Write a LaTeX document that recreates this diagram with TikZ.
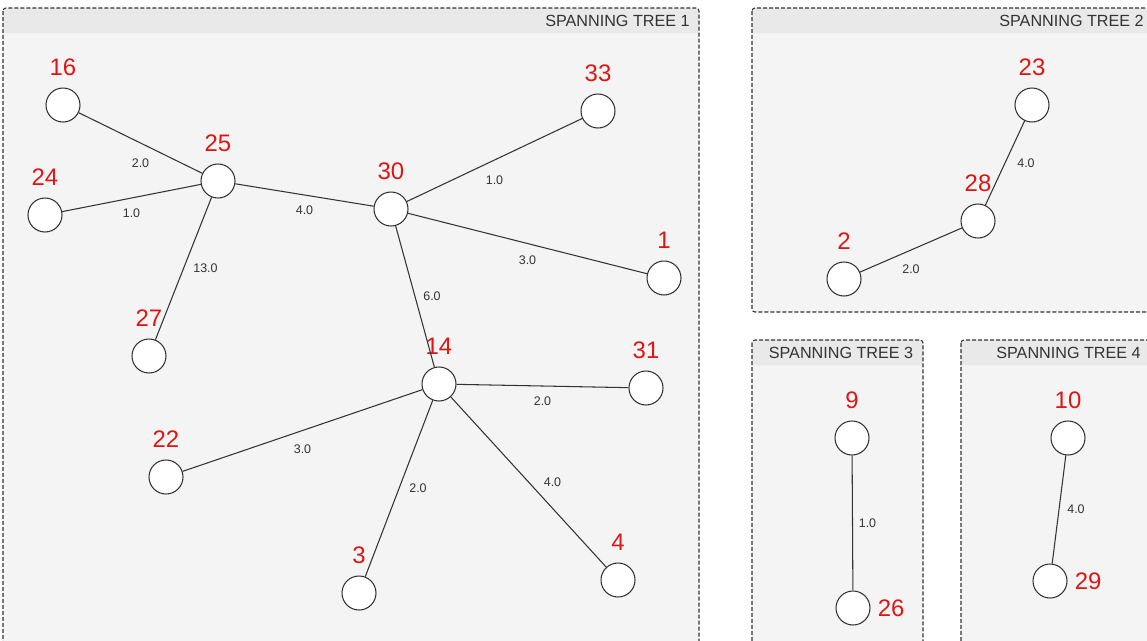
\documentclass[tikz,border=0pt]{standalone}
\usepackage{fontspec}
\setmainfont{Liberation Sans}
\definecolor{vtxred}{RGB}{225,20,20}
\definecolor{panelbg}{RGB}{244,244,244}
\definecolor{titlebg}{RGB}{233,233,233}
\definecolor{ink}{RGB}{51,51,51}
\tikzset{
  vert/.style={circle, draw=ink, fill=white, line width=0.6pt, minimum size=0.68cm, inner sep=0pt},
  vlabel/.style={text=vtxred, font=\fontsize{13.6}{14}\selectfont, inner sep=0pt},
  wt/.style={font=\fontsize{7.1}{8}\selectfont, text=ink, inner sep=0pt},
  link/.style={draw=ink, line width=0.6pt},
  panel/.style={draw=ink, dash pattern=on 0.08cm off 0.04cm, line width=0.6pt, rounded corners=0.06cm},
  ptitle/.style={font=\fontsize{9.2}{10}\selectfont, text=ink, inner sep=0pt}
}
\begin{document}
\begin{tikzpicture}[x=0.02cm, y=-0.02cm]
        % Canvas
        \fill[white] (0,0) rectangle (1147,640);
        \useasboundingbox (0,0) rectangle (1147,640);
        \clip (0,0) rectangle (1147,640);

        % Draw panels
        \foreach \l/\t/\r/\b in {3/8/699/700, 752/8/1200/312, 752/340/923/700, 961/340/1200/700}
        {
            \fill[panelbg, rounded corners=0.06cm] (\l,\t) rectangle (\r,\b);
            \fill[titlebg, rounded corners=0.06cm] (\l,\t+25) -- (\l,\t) -- (\r,\t) -- (\r,\t+25);
            \draw[panel] (\l,\t) rectangle (\r,\b);
        }
        \node[ptitle, anchor=east] (t1) at (690,21) {SPANNING TREE 1};
        \node[ptitle, anchor=west] (t2) at (999,21) {SPANNING TREE 2};
        \node[ptitle] (t3) at (841,353) {SPANNING TREE 3};
        \node[ptitle, anchor=west] (t4) at (996,353) {SPANNING TREE 4};

        % Vertices
        \foreach \n/\x/\y in {16/63/105, 25/218/181, 24/45/215, 30/391/209, 33/598/111,
                              1/664/278, 27/149/356, 14/439/384, 31/646/388, 22/166/477,
                              3/359/593, 4/618/580, 23/1032/105, 28/978/221, 2/844/279,
                              9/852/438, 10/1068/438}
            \node[vert, label={[vlabel, label distance=0.23cm]above:\n}] (n\n) at (\x,\y) {};
        \foreach \n/\x/\y in {26/853/608, 29/1050/581}
            \node[vert, label={[vlabel, label distance=0.14cm]right:\n}] (n\n) at (\x,\y) {};

        % Weighted edges
        \foreach \a/\b/\w/\dx/\dy in {16/25/2.0/0/20, 24/25/1.0/0/15, 25/30/4.0/0/15,
                                      30/33/1.0/0/20, 30/1/3.0/0/17, 25/27/13.0/22/0,
                                      30/14/6.0/17/0, 14/31/2.0/0/15, 14/22/3.0/0/19,
                                      14/3/2.0/19/0, 14/4/4.0/24/0, 23/28/4.0/21/0,
                                      28/2/2.0/0/19, 9/26/1.0/15/0, 10/29/4.0/17/0}
            \draw[link] (n\a) -- node[wt, shift={(\dx,\dy)}] {\w} (n\b);

    \end{tikzpicture}
\end{document}
